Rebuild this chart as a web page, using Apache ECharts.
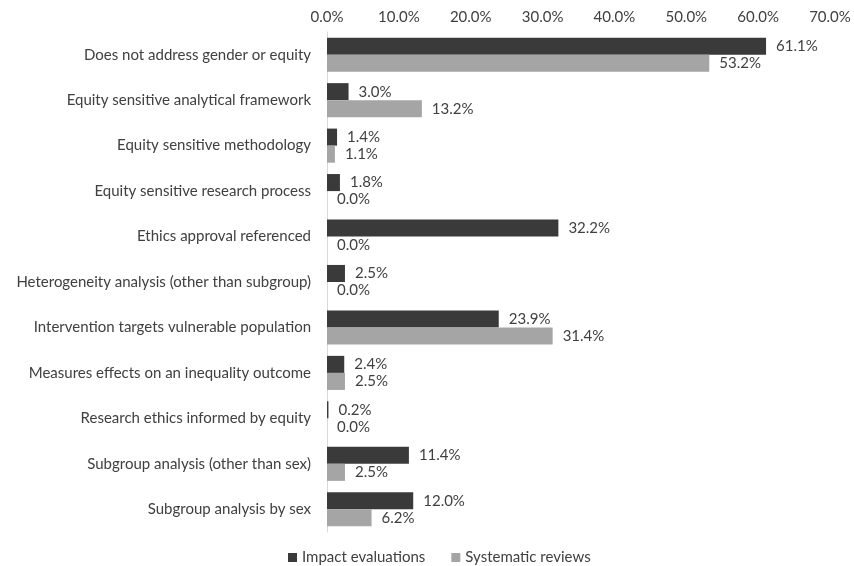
<!DOCTYPE html>
<html>
<head>
<meta charset="utf-8">
<script src="https://cdn.jsdelivr.net/npm/echarts@6/dist/echarts.min.js"></script>
<style>
  html, body { margin: 0; padding: 0; background: #ffffff; }
  #chart { width: 854px; height: 566px; }
</style>
</head>
<body>
<div id="chart"></div>
<script>
// Equity-related features, listed top to bottom
const categories = [
  'Does not address gender or equity',
  'Equity sensitive analytical framework',
  'Equity sensitive methodology',
  'Equity sensitive research process',
  'Ethics approval referenced',
  'Heterogeneity analysis (other than subgroup)',
  'Intervention targets vulnerable population',
  'Measures effects on an inequality outcome',
  'Research ethics informed by equity',
  'Subgroup analysis (other than sex)',
  'Subgroup analysis by sex'
];

// Share of studies (%)
const impactEvaluations = [61.1, 3.0, 1.4, 1.8, 32.2, 2.5, 23.9, 2.4, 0.2, 11.4, 12.0];
const systematicReviews = [53.2, 13.2, 1.1, 0.0, 0.0, 0.0, 31.4, 2.5, 0.0, 2.5, 6.2];

const seriesNames = ['Impact evaluations', 'Systematic reviews'];

const pct = v => Number(v).toFixed(1) + '%';
const textColor = '#404040';
const fontFamily = 'Lato, "Liberation Sans", Arial, sans-serif';
const fontSize = 15;

const chart = echarts.init(document.getElementById('chart'), null, { renderer: 'canvas' });

const labelStyle = {
  show: true,
  position: 'right',
  distance: 10,
  color: textColor,
  fontSize: fontSize,
  fontFamily: fontFamily,
  formatter: p => pct(p.value)
};

chart.setOption({
  animation: false,
  backgroundColor: '#ffffff',
  grid: { left: 327, right: 24, top: 32, bottom: 34, containLabel: false },
  legend: {
    bottom: -4,
    left: 283,
    itemWidth: 9,
    itemHeight: 9,
    itemGap: 26,
    icon: 'rect',
    textStyle: { color: textColor, fontSize: fontSize, fontFamily: fontFamily },
    data: seriesNames
  },
  xAxis: {
    type: 'value',
    position: 'top',
    min: 0,
    max: 70,
    interval: 10,
    axisLine: { show: false },
    axisTick: { show: false },
    splitLine: { show: false },
    axisLabel: {
      color: textColor,
      fontSize: fontSize,
      fontFamily: fontFamily,
      margin: 7,
      formatter: v => pct(v)
    }
  },
  yAxis: {
    type: 'category',
    inverse: true,
    data: categories,
    axisLine: { show: true, lineStyle: { color: '#d9d9d9', width: 1 } },
    axisTick: { show: false },
    axisLabel: {
      color: textColor,
      fontSize: fontSize,
      fontFamily: fontFamily,
      margin: 16
    }
  },
  series: [
    {
      name: seriesNames[0],
      type: 'bar',
      data: impactEvaluations,
      barGap: '0%',
      barCategoryGap: '25%',
      itemStyle: { color: '#3a3a3a' },
      label: labelStyle
    },
    {
      name: seriesNames[1],
      type: 'bar',
      data: systematicReviews,
      barGap: '0%',
      barCategoryGap: '25%',
      itemStyle: { color: '#a5a5a5' },
      label: labelStyle
    }
  ]
});
</script>
</body>
</html>
